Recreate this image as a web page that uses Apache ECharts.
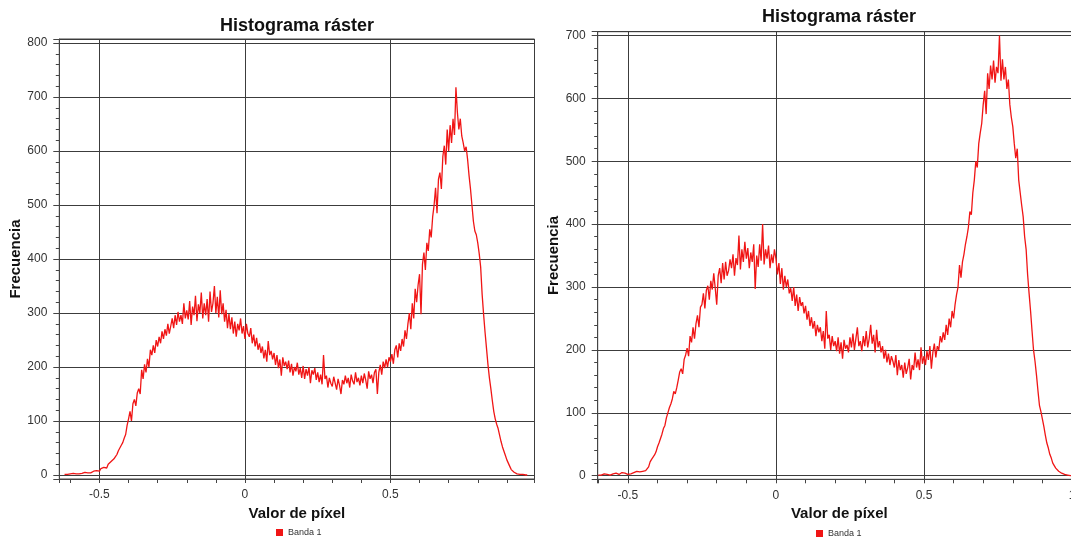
<!DOCTYPE html>
<html>
<head>
<meta charset="utf-8">
<script src="https://cdn.jsdelivr.net/npm/echarts@6/dist/echarts.min.js"></script>
<style>
  html, body { margin: 0; padding: 0; background: #ffffff; }
  #chart { width: 1071px; height: 541px; }
</style>
</head>
<body>
<div id="chart"></div>
<script>
// Texts
const chartTitle = 'Histograma ráster';
const xName = 'Valor de píxel';
const yName = 'Frecuencia';
const bandName = 'Banda 1';

// Histogram bins: first bin centre and bin width (pixel value units)
const leftBinStart = -0.62;
const rightBinStart = -0.60;
const binWidth = 0.005;

// Frequency per bin, left raster
const leftCounts = [
  1,2,1,2,2,1,3,2,2,3,2,4,3,3,5,3,4,6,4,5,7,5,8,6,
  7,12,9,14,17,13,20,18,25,22,
  30,34,38,45,42,55,60,68,75,92,
  104,118,100,132,140,128,152,160,150,195,
  178,205,190,215,200,232,222,240,226,250,
  238,256,244,266,252,270,258,280,262,276,
  290,272,296,278,302,284,296,280,318,290,
  305,288,322,278,312,296,332,285,316,300,
  338,290,318,296,326,284,340,302,318,350,
  300,330,292,342,298,318,284,306,272,298,
  270,292,262,284,256,280,268,290,262,276,
  252,280,262,256,272,244,260,238,254,232,
  244,226,238,216,232,210,248,222,230,214,
  226,204,222,198,214,184,218,202,210,196,
  212,190,206,184,200,192,208,186,198,180,
  202,178,196,184,200,170,194,186,198,176,
  190,172,186,168,222,178,184,162,180,170,
  164,182,170,158,178,166,150,176,168,184,
  170,180,162,186,174,168,190,172,180,166,
  184,170,188,176,160,192,178,186,170,190,
  196,150,190,204,186,210,198,214,200,218,
  210,224,206,232,240,218,244,230,252,238,
  268,252,280,300,270,318,290,345,320,352,
  372,298,390,412,380,430,415,455,440,478,
  500,532,485,548,560,530,590,610,575,640,
  600,648,615,660,630,718,672,640,660,628,
  615,600,608,585,555,530,500,470,452,445,
  430,410,385,335,298,265,235,205,180,160,
  138,118,104,94,86,74,62,52,44,36,
  28,22,16,10,7,5,3,2,2,1,
  1,1,0,0,0
];

// Frequency per bin, right raster
const rightCounts = [
  1,2,1,2,3,2,2,3,1,2,3,2,4,3,2,3,5,3,4,3,
  2,4,3,6,5,4,7,9,6,8,
  7,10,8,11,14,22,26,24,33,38,
  46,52,50,66,75,80,92,100,108,114,
  122,134,130,140,152,165,170,162,185,192,
  203,190,222,212,236,218,242,255,236,268,
  272,290,266,295,302,280,310,296,322,298,
  272,318,330,306,338,312,340,318,326,344,
  330,352,318,346,335,382,328,360,340,372,
  345,362,330,355,340,368,297,350,332,368,
  342,400,336,360,345,366,330,352,338,360,
  345,320,338,305,330,296,318,300,312,290,
  298,278,300,270,288,262,284,270,276,258,
  270,248,262,238,252,234,246,222,240,228,
  236,214,230,202,262,218,224,200,222,206,
  214,198,220,194,212,186,216,202,208,196,
  220,204,226,200,218,236,206,214,198,222,
  206,230,204,218,240,210,224,196,232,204,
  214,196,206,186,200,180,194,176,190,182,
  172,192,160,184,168,176,156,180,162,172,
  186,153,176,168,196,172,185,168,204,178,
  190,176,198,184,206,170,196,210,188,206,
  200,222,212,228,216,240,224,250,236,262,
  250,272,288,300,335,315,340,352,368,380,
  395,420,415,450,470,500,490,528,545,560,
  590,612,575,640,615,652,630,660,625,650,
  640,700,628,662,630,650,615,630,590,570,
  555,528,505,520,470,450,430,412,380,360,
  320,290,262,230,200,182,160,135,112,102,
  90,78,64,52,44,34,28,20,16,12,
  10,7,6,4,3,2,2,1,1,0,
  0
];

// Visible axis ranges
const leftXRange = [-0.638, 0.995];
const leftYRange = [-7.4, 807.6];
const rightXRange = [-0.602, 1.03];
const rightYRange = [-5.7, 706];

const FONT = "'Liberation Sans', Arial, sans-serif";
const AXIS_COLOR = '#444444';
const GRID_LINE = '#3c3c3c';
const RED = '#f01515';

function toPairs(start, counts) {
  return counts.map((c, i) => [+(start + i * binWidth).toFixed(4), c]);
}

function xAxisFor(gridIndex, range) {
  return {
    type: 'value', gridIndex, min: range[0], max: range[1], splitNumber: 3,
    name: xName, nameLocation: 'middle', nameGap: 25,
    nameTextStyle: { fontFamily: FONT, fontWeight: 'bold', fontSize: 15, color: '#111' },
    axisLine: { show: true, onZero: false, lineStyle: { color: AXIS_COLOR, width: 1 } },
    axisTick: { show: true, inside: false, length: 4, lineStyle: { color: AXIS_COLOR } },
    minorTick: { show: true, splitNumber: 5, length: 4, lineStyle: { color: AXIS_COLOR } },
    axisLabel: { showMinLabel: false, showMaxLabel: false, margin: 10,
                 fontFamily: FONT, fontSize: 12, color: '#333' },
    splitLine: { show: true, lineStyle: { color: GRID_LINE, width: 1 } },
    minorSplitLine: { show: false }
  };
}

function yAxisFor(gridIndex, range) {
  return {
    type: 'value', gridIndex, min: range[0], max: range[1],
    splitNumber: gridIndex === 0 ? 8 : 7,
    name: yName, nameLocation: 'middle', nameGap: 33,
    nameTextStyle: { fontFamily: FONT, fontWeight: 'bold', fontSize: 15, color: '#111' },
    axisLine: { show: true, onZero: false, lineStyle: { color: AXIS_COLOR, width: 1 } },
    axisTick: { show: true, inside: false, length: 6, lineStyle: { color: AXIS_COLOR } },
    minorTick: { show: true, splitNumber: 5, length: 3.5, lineStyle: { color: AXIS_COLOR } },
    axisLabel: { showMinLabel: false, showMaxLabel: false, margin: 12,
                 fontFamily: FONT, fontSize: 12, color: '#333' },
    splitLine: { show: true, lineStyle: { color: GRID_LINE, width: 1 } },
    minorSplitLine: { show: false }
  };
}

function legendAt(left, top) {
  return {
    left, top, padding: 0, data: [bandName], icon: 'rect',
    itemWidth: 7, itemHeight: 7, itemGap: 4, selectedMode: false,
    textStyle: { fontFamily: FONT, fontSize: 9, color: '#333' }
  };
}

function titleAt(centerX, top) {
  return {
    text: chartTitle, left: centerX, top, textAlign: 'center', padding: 0,
    textStyle: { fontFamily: FONT, fontWeight: 'bold', fontSize: 18, color: '#111' }
  };
}

function seriesFor(index, start, counts) {
  return {
    name: bandName, type: 'line', xAxisIndex: index, yAxisIndex: index,
    data: toPairs(start, counts), showSymbol: false, symbol: 'none',
    sampling: null, smooth: false,
    lineStyle: { color: RED, width: 1.3 }, itemStyle: { color: RED },
    emphasis: { disabled: true }
  };
}

const chart = echarts.init(document.getElementById('chart'), null, { renderer: 'canvas' });
chart.setOption({
  animation: false,
  backgroundColor: '#ffffff',
  title: [titleAt(297, 17), titleAt(839, 8.5)],
  legend: [legendAt(276, 528), legendAt(816, 529)],
  grid: [
    { left: 59.3, width: 475.2, top: 39, bottom: 62, show: true,
      outerBoundsMode: 'none', containLabel: false,
      borderColor: AXIS_COLOR, borderWidth: 1, backgroundColor: '#ffffff' },
    // the right plot runs a few pixels past the page edge
    { left: 597.7, width: 483.2, top: 31.7, bottom: 61.7, show: true,
      outerBoundsMode: 'none', containLabel: false,
      borderColor: AXIS_COLOR, borderWidth: 1, backgroundColor: '#ffffff' }
  ],
  xAxis: [xAxisFor(0, leftXRange), xAxisFor(1, rightXRange)],
  yAxis: [yAxisFor(0, leftYRange), yAxisFor(1, rightYRange)],
  series: [
    seriesFor(0, leftBinStart, leftCounts),
    seriesFor(1, rightBinStart, rightCounts)
  ]
});
</script>
</body>
</html>
